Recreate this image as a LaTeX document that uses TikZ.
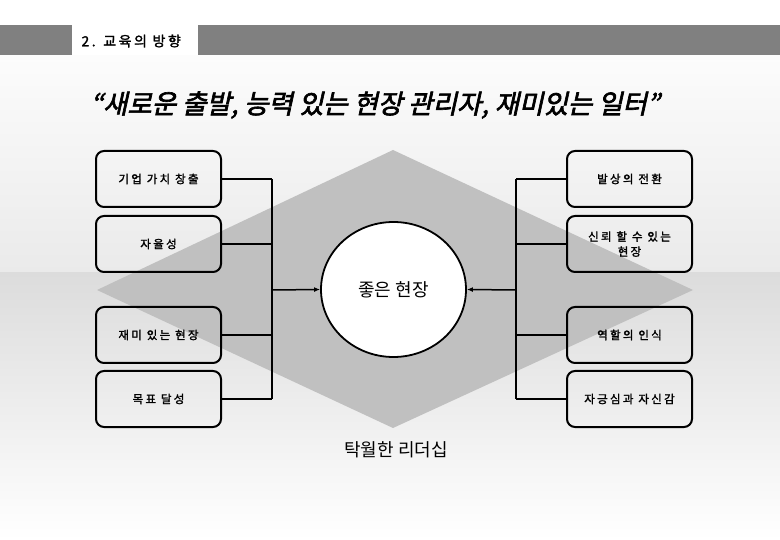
\documentclass[tikz,border=0pt]{standalone}
\usepackage{fontspec}
\setmainfont{Noto Sans CJK KR}
\newfontfamily\titlefont[FakeSlant=0.22,FakeBold=2.4]{Noto Sans CJK KR}
\newfontfamily\boxfont[FakeBold=1.8,LetterSpace=20]{Noto Sans CJK KR}
\newfontfamily\headfont[FakeBold=1.8,LetterSpace=18]{Noto Sans CJK KR}
\usepackage{tikz}
\usetikzlibrary{calc,positioning,shapes.geometric,arrows.meta}

\begin{document}
\begin{tikzpicture}[x=1pt,y=-1pt]

% =========================
% Color Definitions
% =========================
\definecolor{bandgray}{HTML}{808080}
\definecolor{diagray}{HTML}{C0C0C0}
\definecolor{bgtop}{HTML}{FCFCFC}
\definecolor{bgmid}{HTML}{EAEAEA}
\definecolor{bglow}{HTML}{DCDCDC}

% =========================
% Styles
% =========================
\tikzset{
    itembox/.style={
        draw,
        rounded corners=8pt,
        line width=2pt,
        minimum width=125pt,
        minimum height=56pt,
        align=center,
        inner sep=2pt,
        font=\boxfont\fontsize{11.5}{15}\selectfont
    },
    conn/.style={line width=1.5pt},
    bigtext/.style={font=\fontsize{18}{22}\selectfont}
}

\useasboundingbox (0,0) rectangle (780,540);

% =========================
% Background
% =========================
\fill[white] (0,0) rectangle (780,55);
\shade[top color=bgtop, bottom color=bgmid] (0,55) rectangle (780,273);
\shade[top color=bglow, bottom color=white] (0,273) rectangle (780,540);

% header band with tab
\fill[bandgray] (0,25) rectangle (780,55);
\fill[white] (72,25) rectangle (198,55);
\node[anchor=west, font=\headfont\fontsize{14}{15}\selectfont] (head) at (78,41) {2. 교육의 방향};

% title
\node[font=\titlefont\fontsize{26.5}{30}\selectfont] (title) at (375,105)
    {“새로운 출발, 능력 있는 현장 관리자, 재미있는 일터”};

% =========================
% Diamond
% =========================
\fill[diagray] (97,290) -- (393,150) -- (693,290) -- (393,428) -- cycle;

% =========================
% Center & Boxes
% =========================
\node[ellipse, draw, line width=1.8pt, fill=white, minimum width=145pt,
      minimum height=135pt, bigtext] (good) at (393.5,289.5) {좋은 현장};

\node[itembox] (lb1) at (158.5,179) {기업 가치 창출};
\node[itembox] (lb2) at (158.5,244) {자율성};
\node[itembox] (lb3) at (158.5,335) {재미 있는 현장};
\node[itembox] (lb4) at (158.5,399) {목표 달성};

\node[itembox] (rb1) at (629.5,179) {발상의 전환};
\node[itembox] (rb2) at (629.5,244) {신뢰 할 수 있는\\현장};
\node[itembox] (rb3) at (629.5,335) {역할의 인식};
\node[itembox] (rb4) at (629.5,399) {자긍심과 자신감};

\node[bigtext] (lead) at (396,450) {탁월한 리더십};

% =========================
% Connectors
% =========================
\coordinate (jl) at (272,290);
\coordinate (jr) at (516,290);

\foreach \b in {lb1,lb2,lb3,lb4}
    \draw[conn] (\b.east) -- (\b.east -| jl);
\draw[conn] (lb1.east -| jl) -- (lb4.east -| jl);
\draw[conn,-{Latex[length=6pt,width=5pt]}] (jl) -- (good.west);

\foreach \b in {rb1,rb2,rb3,rb4}
    \draw[conn] (\b.west) -- (\b.west -| jr);
\draw[conn] (rb1.west -| jr) -- (rb4.west -| jr);
\draw[conn,-{Latex[length=6pt,width=5pt]}] (jr) -- (good.east);

\end{tikzpicture}
\end{document}
